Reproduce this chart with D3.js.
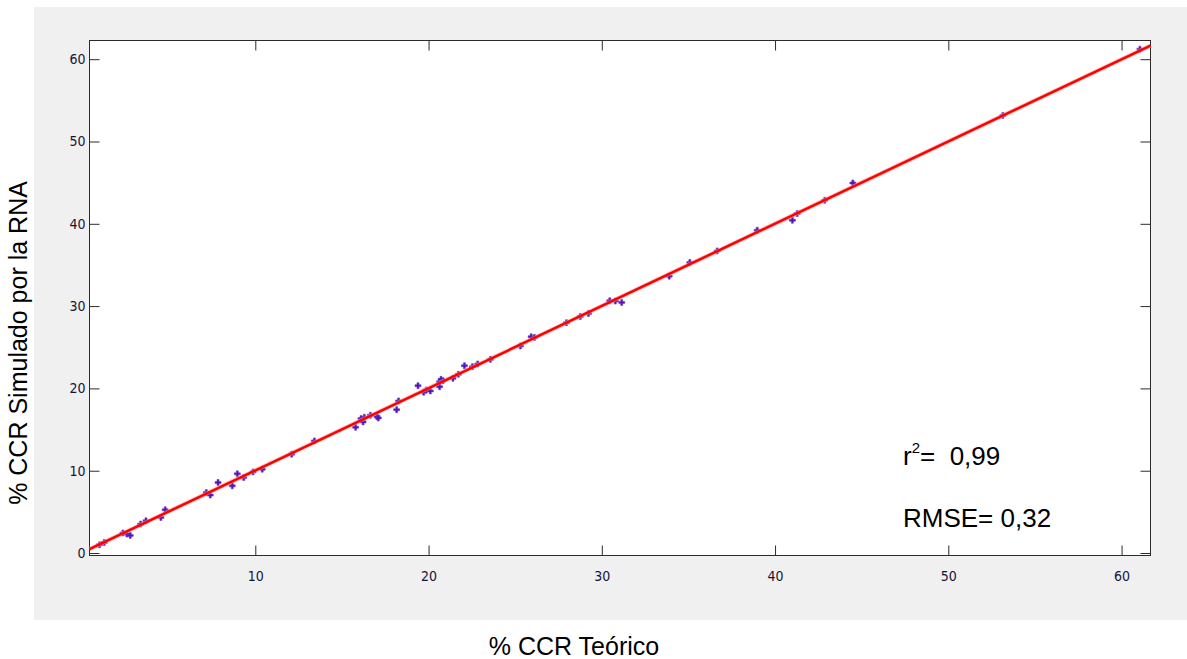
<!DOCTYPE html>
<html>
<head>
<meta charset="utf-8">
<script src="https://cdn.jsdelivr.net/npm/d3@7"></script>
<style>
  html, body { margin: 0; padding: 0; background: #ffffff; }
  svg { display: block; }
</style>
</head>
<body>
<svg id="chart" width="1187" height="659"></svg>
<script>
// Theoretical CCR (%) vs. CCR simulated by the neural network (%)
const ccrTeorico = [
  1.01, 1.28, 2.36, 2.59, 2.78, 3.38, 3.69, 4.55, 4.80, 7.17, 7.40, 7.85, 8.67, 8.96,
  9.33, 9.87, 10.40, 12.10, 13.41, 15.79, 16.10, 16.22, 16.29, 16.64, 17.03, 17.10,
  18.16, 18.27, 19.39, 19.72, 19.87, 20.10, 20.64, 20.72, 20.64, 20.84, 21.41, 21.72,
  22.07, 22.53, 22.84, 23.57, 25.30, 25.92, 26.11, 27.96, 28.76, 29.23, 30.46, 30.78,
  31.15, 33.89, 35.08, 36.66, 38.97, 41.00, 41.28, 42.87, 44.49, 53.15, 61.06
];
const ccrSimulado = [
  1.00, 1.29, 2.43, 2.30, 2.14, 3.52, 3.92, 4.32, 5.25, 7.35, 7.04, 8.57, 8.16, 9.62,
  9.17, 9.86, 10.19, 12.01, 13.62, 15.29, 16.33, 15.93, 16.50, 16.74, 16.57, 16.41,
  17.42, 18.48, 20.33, 19.53, 19.81, 19.69, 20.82, 21.10, 20.21, 20.94, 21.23, 21.71,
  22.76, 22.64, 22.97, 23.53, 25.15, 26.28, 26.20, 27.98, 28.75, 29.11, 30.65, 30.61,
  30.45, 33.64, 35.30, 36.71, 39.22, 40.43, 41.25, 42.86, 44.96, 53.17, 61.22
];
// Regression line: simulated = slope * theoretical + intercept
const fitSlope = 0.999;
const fitIntercept = 0.05;
const xTicks = [10, 20, 30, 40, 50, 60];
const yTicks = [0, 10, 20, 30, 40, 50, 60];
const xDomain = [0.43, 61.67];
const yDomain = [-0.3, 62.27];
const statLines = [
  { base: "r", sup: "2", rest: "=  0,99" },
  { base: "RMSE= 0,32", sup: "", rest: "" }
];

const svg = d3.select("#chart");
const box = { left: 89.5, right: 1150.5, top: 40.5, bottom: 555.5 };

// grey figure background
svg.append("rect")
  .attr("x", 34).attr("y", 7).attr("width", 1153).attr("height", 613)
  .attr("fill", "#f0f0f0");

// white axes area
svg.append("rect")
  .attr("x", box.left).attr("y", box.top)
  .attr("width", box.right - box.left).attr("height", box.bottom - box.top)
  .attr("fill", "#ffffff");

const x = d3.scaleLinear().domain(xDomain).range([box.left, box.right]);
const y = d3.scaleLinear().domain(yDomain).range([box.bottom, box.top]);

const tickFont = "'DejaVu Sans Condensed', 'Liberation Sans Narrow', 'Arial Narrow', sans-serif";
const axisColor = "#2b2b2b";
const tickLen = 10;

function styleAxis(g, showLabels) {
  g.select(".domain").remove();
  g.selectAll(".tick line").attr("stroke", axisColor).attr("stroke-width", 1);
  g.selectAll(".tick text")
    .attr("fill", "#14143a")
    .style("font-family", tickFont)
    .style("font-stretch", "condensed")
    .style("font-size", "14px")
    .style("opacity", showLabels ? 1 : 0);
}

// bottom / top axes (ticks pointing inward)
svg.append("g")
  .attr("transform", `translate(0,${box.bottom})`)
  .call(d3.axisBottom(x).tickValues(xTicks).tickSize(-tickLen).tickPadding(16).tickFormat(d3.format("d")))
  .call(g => styleAxis(g, true));
svg.append("g")
  .attr("transform", `translate(0,${box.top})`)
  .call(d3.axisTop(x).tickValues(xTicks).tickSize(-tickLen).tickFormat(""))
  .call(g => styleAxis(g, false));

// left / right axes
svg.append("g")
  .attr("transform", `translate(${box.left},0)`)
  .call(d3.axisLeft(y).tickValues(yTicks).tickSize(-tickLen).tickPadding(4).tickFormat(d3.format("d")))
  .call(g => styleAxis(g, true));
svg.append("g")
  .attr("transform", `translate(${box.right},0)`)
  .call(d3.axisRight(y).tickValues(yTicks).tickSize(-tickLen).tickFormat(""))
  .call(g => styleAxis(g, false));

// axes box outline
svg.append("rect")
  .attr("x", box.left).attr("y", box.top)
  .attr("width", box.right - box.left).attr("height", box.bottom - box.top)
  .attr("fill", "none").attr("stroke", axisColor).attr("stroke-width", 1);

const plot = svg.append("g");

// data points
const pts = ccrTeorico.map((v, i) => ({ t: v, s: ccrSimulado[i] }));
plot.selectAll("path.pt")
  .data(pts)
  .join("path")
  .attr("class", "pt")
  .attr("d", d3.symbol().type(d3.symbolCross).size(20))
  .attr("transform", d => `translate(${x(d.t)},${y(d.s)})`)
  .attr("fill", "#4f14b8")
  .attr("stroke", "#6c40c8")
  .attr("stroke-width", 0.6);

// fitted line
const fitLine = d3.line().x(d => x(d)).y(d => y(fitSlope * d + fitIntercept));
plot.append("path")
  .datum(xDomain)
  .attr("d", fitLine)
  .attr("fill", "none")
  .attr("stroke", "#ff9090")
  .attr("stroke-width", 4.2)
  .attr("stroke-opacity", 0.6);
plot.append("path")
  .datum(xDomain)
  .attr("d", fitLine)
  .attr("fill", "none")
  .attr("stroke", "#ff0000")
  .attr("stroke-width", 2.5);

// statistics annotation
const statFont = "'Liberation Sans', Arial, sans-serif";
const statBaselines = [465, 527];
statLines.forEach((s, i) => {
  const t = svg.append("text")
    .attr("x", 903).attr("y", statBaselines[i])
    .attr("fill", "#000")
    .style("font-family", statFont)
    .style("font-size", "26px")
    .style("white-space", "pre");
  t.append("tspan").text(s.base);
  if (s.sup) {
    t.append("tspan").attr("dy", -12).style("font-size", "15px").text(s.sup);
    t.append("tspan").attr("dy", 12).text(s.rest);
  }
});

// axis titles
svg.append("text")
  .attr("x", 574).attr("y", 655)
  .attr("text-anchor", "middle")
  .style("font-family", statFont)
  .style("font-size", "25px")
  .attr("fill", "#000")
  .text("% CCR Teórico");

svg.append("text")
  .attr("transform", "translate(27,343) rotate(-90)")
  .attr("text-anchor", "middle")
  .style("font-family", statFont)
  .style("font-size", "25px")
  .attr("fill", "#000")
  .text("% CCR Simulado por la RNA");
</script>
</body>
</html>
